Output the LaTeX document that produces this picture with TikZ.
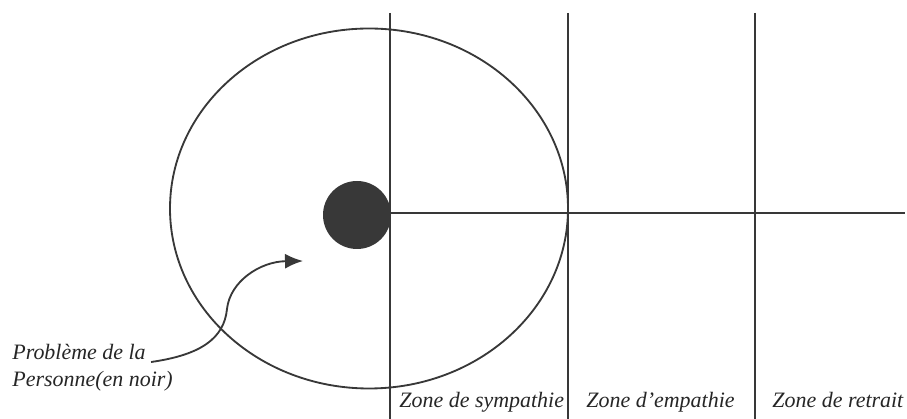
\documentclass[tikz,border=0pt]{standalone}
\usepackage{fontspec}
\setmainfont{Liberation Serif}
\usetikzlibrary{positioning,arrows.meta,calc}
\definecolor{trait}{gray}{0.22}

\begin{document}
\begin{tikzpicture}[
    ligne/.style={draw=trait, line width=1.05pt},
    rotulo/.style={font=\fontsize{12.5}{15}\selectfont\itshape, inner sep=0pt, anchor=base west, text=black!85}]
        \useasboundingbox (0,0) rectangle (18.14,8.38);

        % Elipse
        \draw[ligne] (7.38,4.21) ellipse (3.98 and 3.6);

        % Zonas
        \draw[ligne] (7.8,8.12) -- (7.8,0);
        \draw[ligne] (11.36,8.12) -- (11.36,0);
        \draw[ligne] (15.1,8.12) -- (15.1,0);
        \draw[ligne] (7.8,4.12) -- (18.1,4.12);

        % Problema
        \node[circle, fill=trait, minimum size=1.36cm, inner sep=0pt] (probleme) at (7.14,4.08) {};

        % Rotulos
        \node[rotulo] (lblA) at (0.24,1.18) {Problème de la};
        \node[rotulo] (lblB) at (0.24,0.64) {Personne(en noir)};
        \node[rotulo] (zoneA) at (7.98,0.22) {Zone de sympathie};
        \node[rotulo] (zoneB) at (11.72,0.22) {Zone d’empathie};
        \node[rotulo] (zoneC) at (15.44,0.22) {Zone de retrait};

        % Seta
        \coordinate (pointe) at (6.06,3.16);
        \draw[ligne, -{Latex[length=3.6mm,width=3mm]}] ($(lblA.base east)+(0.1,-0.04)$)
            .. controls (4.0,1.28) and (4.48,1.6) .. (4.54,2.2)
            .. controls (4.6,2.75) and (5.2,3.15) .. (pointe);

    \end{tikzpicture}
\end{document}
